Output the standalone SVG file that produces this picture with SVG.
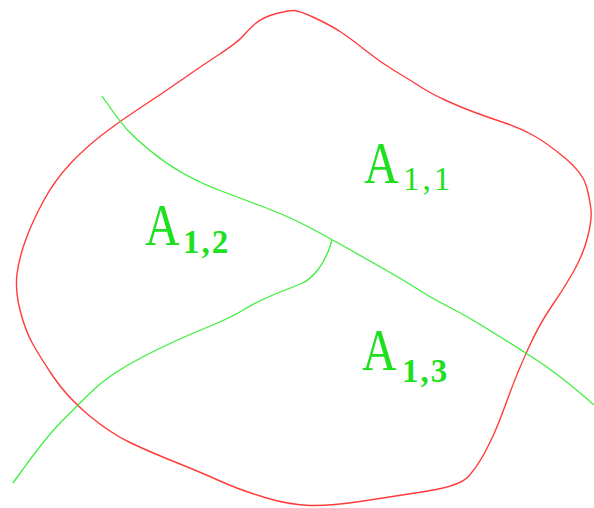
<svg xmlns="http://www.w3.org/2000/svg" width="594" height="508" viewBox="0 0 594 508">
<style>
.red{fill:none;stroke:#ff3b3b;stroke-width:1.4;stroke-linejoin:round}
.grn{fill:none;stroke:#3cee3c;stroke-width:1.3;stroke-linejoin:round}
.lbl{fill:#1ee01e}
</style>
<rect width="594" height="508" fill="#fff"/>
<g id="region-boundary">
<path class="red" d="M295,10.5 Q290,10 276.5,13.5 Q263,17 255.5,23.5 Q248,30 243,36 Q238,42 219,54.5 Q200,67 180,81 Q160,95 140,108 Q120,121 102.5,134.5 Q85,148 70,164 Q55,180 44,200 Q33,220 26,239 Q19,258 17,274 Q15,290 20,310 Q25,330 32.5,343.5 Q40,357 53.5,377 Q67,397 88.5,415 Q110,433 130,442.5 Q150,452 175,462 Q200,472 220,481 Q240,490 265,497.5 Q290,505 310,505.5 Q330,506 360,501.5 Q390,497 425,491.5 Q460,486 468.5,476.5 Q477,467 483.5,455 Q490,443 495,431.5 Q500,420 508.5,396.5 Q517,373 528.5,348 Q540,323 551.5,306.5 Q563,290 573,272.5 Q583,255 587.5,237.5 Q592,220 591,210 Q590,200 586.5,186.5 Q583,173 565,158 Q547,143 533.5,135.5 Q520,128 505,123 Q490,118 475,112.5 Q460,107 445,100 Q430,93 420,86.5 Q410,80 395,71 Q380,62 365,50 Q350,38 340,31.5 Q330,25 315,18 Q300,11 295,10.5 Z"/>
</g>
<g id="connectors">
<path id="curve-main" class="grn" d="M102,96 Q120,122 127.5,130 Q135,138 150,150.5 Q165,163 182.5,173 Q200,183 220,190.5 Q240,198 265,207.5 Q290,217 311.5,228.5 Q333,240 350.5,250 Q368,260 384,269 Q400,278 417.5,289 Q435,300 450,307.5 Q465,315 487.5,329 Q510,343 535,359 Q560,375 594,405"/>
<path id="curve-branch" class="grn" d="M332,240 Q327,258 318.5,269 Q310,280 301.5,283.5 Q293,287 276.5,293.5 Q260,300 245,309 Q230,318 211.5,325.5 Q193,333 176.5,340.5 Q160,348 143.5,356.5 Q127,365 113.5,374 Q100,383 89,394 Q78,405 61.5,421.5 Q45,438 13,483"/>
</g>
<g id="label-A11">
<text class="lbl" font-family="'Liberation Serif','DejaVu Serif','Times New Roman',serif" font-size="60" transform="translate(364,183) scale(0.8,1)">A</text>
<text class="lbl" font-family="'Liberation Serif','DejaVu Serif','Times New Roman',serif" x="403" y="190" font-size="33" letter-spacing="3">1,1</text>
</g>
<g id="label-A12">
<text class="lbl" font-family="'Liberation Serif','DejaVu Serif','Times New Roman',serif" font-size="60" transform="translate(145,245) scale(0.8,1)">A</text>
<text class="lbl" font-family="'Liberation Serif','DejaVu Serif','Times New Roman',serif" x="183" y="253" font-size="33" font-weight="bold" letter-spacing="2">1,2</text>
</g>
<g id="label-A13">
<text class="lbl" font-family="'Liberation Serif','DejaVu Serif','Times New Roman',serif" font-size="60" transform="translate(362,370) scale(0.8,1)">A</text>
<text class="lbl" font-family="'Liberation Serif','DejaVu Serif','Times New Roman',serif" x="402" y="382" font-size="33" font-weight="bold" letter-spacing="2">1,3</text>
</g>
</svg>
